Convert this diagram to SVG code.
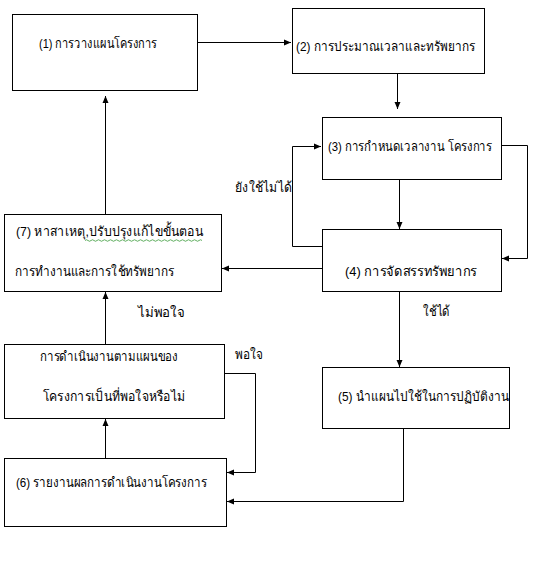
<svg xmlns="http://www.w3.org/2000/svg" width="538" height="561" viewBox="0 0 538 561">
<style>
.box{fill:#fff;stroke:#000;stroke-width:1}
.t{font-family:"Liberation Sans","Noto Sans","DejaVu Sans",sans-serif;font-size:13.5px;fill:#000}
.c{fill:none;stroke:#000;stroke-width:1}
</style>
<defs>
<marker id="ah" markerWidth="8" markerHeight="8" refX="7" refY="4" orient="auto" markerUnits="userSpaceOnUse">
<path d="M0,1 L7,4 L0,7 Z" fill="#000"/>
</marker>
</defs>
<rect width="538" height="561" fill="#fff"/>
<g id="connectors">
<path class="c" d="M197.5,42.5 H291" marker-end="url(#ah)"/>
<path class="c" d="M397.5,73 V109" marker-end="url(#ah)"/>
<path class="c" d="M399.5,179 V229" marker-end="url(#ah)"/>
<path class="c" d="M501,145.5 H527.5 V258.5 H502" marker-end="url(#ah)"/>
<path class="c" d="M322,246.5 H292.5 V146.5 H321" marker-end="url(#ah)"/>
<path class="c" d="M322,268.5 H222" marker-end="url(#ah)"/>
<path class="c" d="M105.5,214 V96" marker-end="url(#ah)"/>
<path class="c" d="M105.5,344 V292" marker-end="url(#ah)"/>
<path class="c" d="M224,373.5 H255.5 V472.5 H227" marker-end="url(#ah)"/>
<path class="c" d="M105.5,458 V419" marker-end="url(#ah)"/>
<path class="c" d="M399.5,291 V367" marker-end="url(#ah)"/>
<path class="c" d="M403.5,428 V501.5 H227" marker-end="url(#ah)"/>
<text class="t" x="235" y="192" textLength="57" lengthAdjust="spacingAndGlyphs">ยังใช้ไม่ได้</text>
<text class="t" x="138" y="317" textLength="47" lengthAdjust="spacingAndGlyphs">ไม่พอใจ</text>
<text class="t" x="235" y="359" textLength="28" lengthAdjust="spacingAndGlyphs">พอใจ</text>
<text class="t" x="423" y="316" textLength="27" lengthAdjust="spacingAndGlyphs">ใช้ได้</text>
</g>
<g id="n1">
<rect class="box" x="12.5" y="14.5" width="185" height="76"/>
<text class="t" x="39" y="48" textLength="118" lengthAdjust="spacingAndGlyphs">(1) การวางแผนโครงการ</text>
</g>
<g id="n2">
<rect class="box" x="292.5" y="8.5" width="192" height="65"/>
<text class="t" x="296" y="51" textLength="179" lengthAdjust="spacingAndGlyphs">(2) การประมาณเวลาและทรัพยากร</text>
</g>
<g id="n3">
<rect class="box" x="322.5" y="117.5" width="179" height="62"/>
<text class="t" x="328" y="151" textLength="164" lengthAdjust="spacingAndGlyphs">(3) การกำหนดเวลางาน โครงการ</text>
</g>
<g id="n4">
<rect class="box" x="322.5" y="229.5" width="179" height="62"/>
<text class="t" x="345" y="276" textLength="132" lengthAdjust="spacingAndGlyphs">(4) การจัดสรรทรัพยากร</text>
</g>
<g id="n5">
<rect class="box" x="322.5" y="367.5" width="187" height="61"/>
<text class="t" x="338" y="401" textLength="171" lengthAdjust="spacingAndGlyphs">(5) นำแผนไปใช้ในการปฏิบัติงาน</text>
</g>
<g id="n6">
<rect class="box" x="4.5" y="458.5" width="222" height="68"/>
<text class="t" x="16" y="487" textLength="191" lengthAdjust="spacingAndGlyphs">(6) รายงานผลการดำเนินงานโครงการ</text>
</g>
<g id="n7">
<rect class="box" x="4.5" y="214.5" width="217" height="77"/>
<text class="t" x="16" y="236" textLength="187" lengthAdjust="spacingAndGlyphs">(7) หาสาเหตุ,ปรับปรุงแก้ไขขั้นตอน</text>
<path d="M85,240.5 q1.5,-1.5 3,0 t3,0 t3,0 t3,0 t3,0 t3,0 t3,0 t3,0 t3,0 t3,0 t3,0 t3,0 t3,0 t3,0 t3,0 t3,0 t3,0 t3,0 t3,0 t3,0 t3,0 t3,0 t3,0 t3,0 t3,0 t3,0 t3,0 t3,0 t3,0 t3,0 t3,0 t3,0 t3,0 t3,0 t3,0 t3,0 t3,0 t3,0 t3,0" fill="none" stroke="#3a9a3a" stroke-width="0.8"/>
<text class="t" x="15" y="276" textLength="159" lengthAdjust="spacingAndGlyphs">การทำงานและการใช้ทรัพยากร</text>
</g>
<g id="n8">
<rect class="box" x="4.5" y="344.5" width="220" height="74"/>
<text class="t" x="40" y="361" textLength="138" lengthAdjust="spacingAndGlyphs">การดำเนินงานตามแผนของ</text>
<text class="t" x="43" y="401" textLength="142" lengthAdjust="spacingAndGlyphs">โครงการเป็นที่พอใจหรือไม่</text>
</g>
</svg>
